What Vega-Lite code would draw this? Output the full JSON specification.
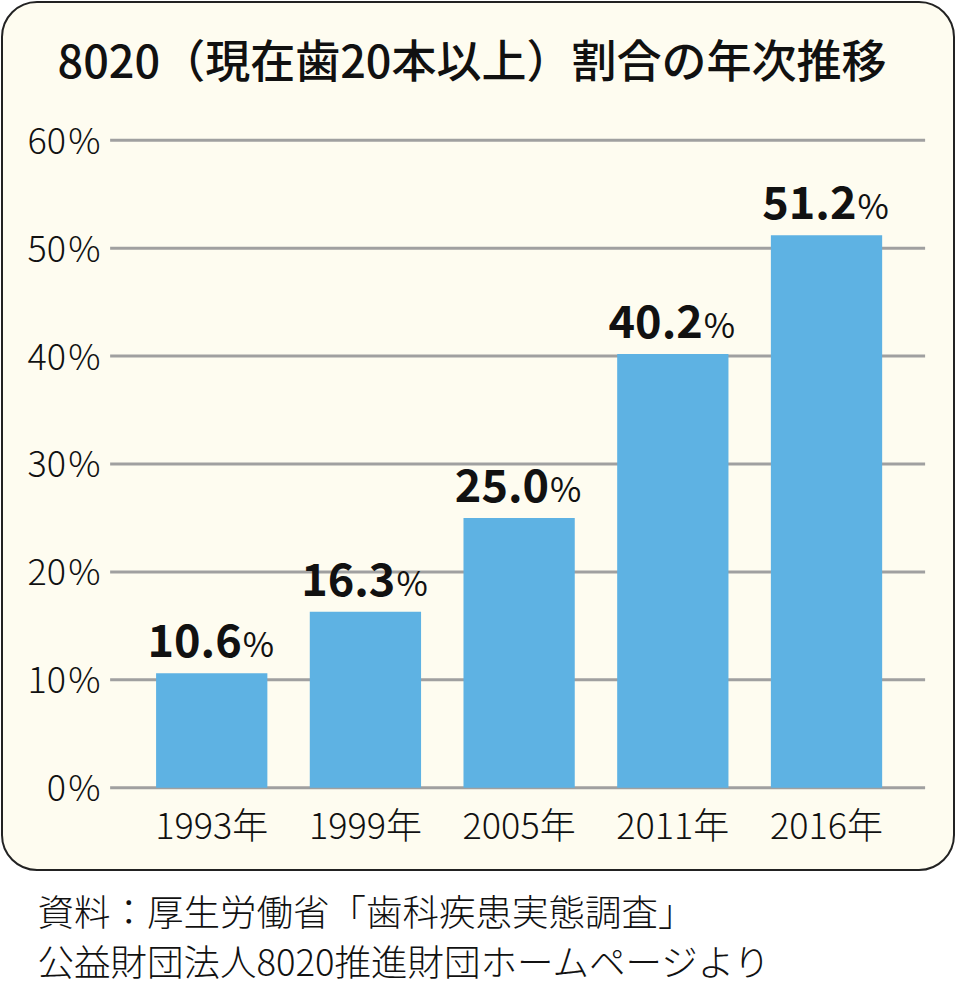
{
  "$schema": "https://vega.github.io/schema/vega-lite/v6.json",
  "width": 952,
  "height": 868,
  "autosize": {"type": "none"},
  "padding": {"left": 2, "top": 2, "right": 6, "bottom": 115},
  "background": "#FFFFFF",
  "config": {
    "font": "Noto Sans CJK JP",
    "view": {"fill": "#FEFCF0", "stroke": "#222222", "strokeWidth": 2, "cornerRadius": 35}
  },
  "title": {
    "text": "8020（現在歯20本以上）割合の年次推移",
    "fontSize": 45,
    "fontWeight": 500,
    "color": "#111111",
    "anchor": "middle",
    "offset": -85,
    "dx": -6
  },
  "datasets": {
    "bars": [
      {"year": "1993年", "value": 10.6},
      {"year": "1999年", "value": 16.3},
      {"year": "2005年", "value": 25.0},
      {"year": "2011年", "value": 40.2},
      {"year": "2016年", "value": 51.2}
    ],
    "grid": [
      {"v": 0}, {"v": 10}, {"v": 20}, {"v": 30}, {"v": 40}, {"v": 50}, {"v": 60}
    ]
  },
  "layer": [
    {
      "data": {"name": "grid"},
      "mark": {"type": "rule", "color": "#A0A0A0", "strokeWidth": 3},
      "encoding": {
        "y": {
          "field": "v", "type": "quantitative",
          "scale": {"domain": [-7.63, 72.82], "nice": false, "zero": false},
          "axis": {
            "orient": "left", "offset": -108, "values": [0, 10, 20, 30, 40, 50, 60],
            "labelExpr": "datum.value + '\u200a%'", "domain": false, "ticks": false, "grid": false,
            "labelFontSize": 36, "labelFontWeight": 300, "labelColor": "#111111",
            "labelPadding": 10, "labelOffset": 2, "title": null, "zindex": 1
          }
        },
        "x": {
          "datum": "1993年", "type": "nominal", "bandPosition": -0.413,
          "scale": {"type": "band", "domain": ["1993年", "1999年", "2005年", "2011年", "2016年"],
                    "paddingInner": 0.276, "paddingOuter": 0.735, "align": 0.682},
          "axis": {
            "orient": "bottom", "offset": -82, "domain": false, "ticks": false, "grid": false,
            "labelFontSize": 36, "labelFontWeight": 300, "labelColor": "#111111", "labelPadding": 50,
            "labelBaseline": "alphabetic", "labelAngle": 0,
            "title": ["資料：厚生労働省「歯科疾患実態調査」", "公益財団法人8020推進財団ホームページより"],
            "titleFontSize": 36.5, "titleFontWeight": 300, "titleColor": "#111111",
            "titleAnchor": "start", "titleAlign": "left", "titleBaseline": "alphabetic",
            "titleX": 35, "titleY": 137, "titleLineHeight": 50, "zindex": 1
          }
        },
        "x2": {"datum": "2016年", "bandPosition": 1.386}
      }
    },
    {
      "data": {"name": "bars"},
      "mark": {"type": "bar", "color": "#5EB2E3"},
      "encoding": {
        "x": {"field": "year", "type": "nominal", "sort": null},
        "y": {"field": "value", "type": "quantitative"},
        "y2": {"datum": 0}
      }
    },
    {
      "data": {"name": "bars"},
      "mark": {"type": "text", "align": "right", "baseline": "alphabetic", "dx": 30, "dy": -16,
               "fontSize": 45, "fontWeight": "bold", "color": "#111111"},
      "encoding": {
        "x": {"field": "year", "type": "nominal", "sort": null},
        "y": {"field": "value", "type": "quantitative"},
        "text": {"field": "value", "type": "quantitative", "format": ".1f"}
      }
    },
    {
      "data": {"name": "bars"},
      "mark": {"type": "text", "align": "left", "baseline": "alphabetic", "dx": 31, "dy": -16,
               "fontSize": 34, "color": "#111111"},
      "encoding": {
        "x": {"field": "year", "type": "nominal", "sort": null},
        "y": {"field": "value", "type": "quantitative"},
        "text": {"value": "%"}
      }
    }
  ]
}
